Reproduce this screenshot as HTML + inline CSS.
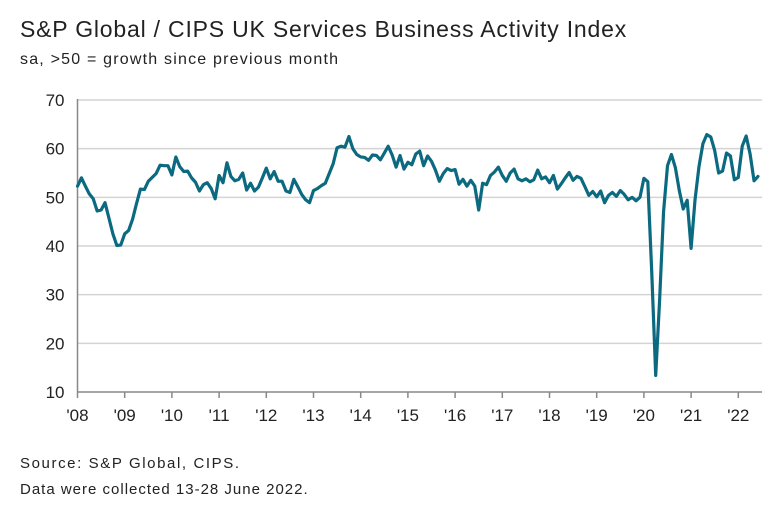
<!DOCTYPE html>
<html><head><meta charset="utf-8"><style>
body{margin:0;background:#fff;font-family:"Liberation Sans",sans-serif;}
#wrap{position:relative;width:781px;height:509px;overflow:hidden;}
.t{position:absolute;color:#222;white-space:nowrap;}
</style></head><body>
<div id="wrap">
<div class="t" style="left:20px;top:16px;font-size:23px;letter-spacing:0.8px;">S&amp;P Global / CIPS UK Services Business Activity Index</div>
<div class="t" style="left:20px;top:51px;font-size:16px;letter-spacing:1.2px;">sa, &gt;50 = growth since previous month</div>
<svg id="chart" width="781" height="509" style="position:absolute;left:0;top:0;"></svg>
<div class="t" style="left:20px;top:455px;font-size:15px;letter-spacing:1.6px;">Source: S&amp;P Global, CIPS.</div>
<div class="t" style="left:20px;top:481px;font-size:15px;letter-spacing:1px;">Data were collected 13-28 June 2022.</div>
</div>
<script>
const yTicks=[10,20,30,40,50,60,70];
const xLabels=["'08","'09","'10","'11","'12","'13","'14","'15","'16","'17","'18","'19","'20","'21","'22"];
const startYear=2008;
const values=[
52.3,54.0,52.3,50.7,49.7,47.2,47.4,48.9,45.7,42.5,40.1,40.2,
42.5,43.2,45.5,48.7,51.7,51.6,53.3,54.1,54.9,56.6,56.5,56.5,
54.6,58.3,56.3,55.3,55.4,54.0,53.1,51.3,52.6,53.0,51.8,49.7,
54.5,53.0,57.1,54.3,53.4,53.7,55.0,51.5,52.9,51.3,52.1,54.0,
56.0,53.8,55.3,53.3,53.3,51.3,51.0,53.7,52.2,50.6,49.5,48.9,
51.4,51.8,52.4,52.9,54.9,56.9,60.2,60.5,60.3,62.5,60.0,58.8,
58.3,58.2,57.6,58.7,58.6,57.7,59.1,60.5,58.7,56.2,58.6,55.8,
57.2,56.7,58.9,59.5,56.5,58.5,57.4,55.6,53.3,54.9,55.9,55.5,
55.7,52.7,53.7,52.3,53.5,52.3,47.4,52.9,52.6,54.5,55.2,56.2,
54.5,53.3,55.0,55.8,53.8,53.4,53.8,53.2,53.6,55.6,53.8,54.2,
53.0,54.5,51.7,52.8,54.0,55.1,53.5,54.3,53.9,52.2,50.4,51.2,
50.1,51.3,48.9,50.4,51.0,50.2,51.4,50.6,49.5,50.0,49.3,50.0,
53.9,53.2,34.5,13.4,29.0,47.1,56.5,58.8,56.1,51.4,47.6,49.4,
39.5,49.5,56.3,61.0,62.9,62.4,59.6,55.0,55.4,59.1,58.5,53.6,
54.1,60.5,62.6,58.9,53.4,54.3];
const svg=document.getElementById('chart');
const NS='http://www.w3.org/2000/svg';
const x0=77.5,yearW=47.2,right=762;
const X=m=>x0+m*yearW/12;
const Y=v=>392-(v-10)*(292/60);
function mk(t,a){const e=document.createElementNS(NS,t);for(const k in a)e.setAttribute(k,a[k]);svg.appendChild(e);return e;}
yTicks.forEach(v=>{
  if(v>10){const g=mk('line',{x1:x0,x2:right,y1:Y(v),y2:Y(v),stroke:'#d4d4d4','stroke-width':1.5});
  
  }
  const t=mk('text',{x:x0-13,y:Y(v)+6,'text-anchor':'end','font-size':17,fill:'#222','font-family':'Liberation Sans, sans-serif'});
  t.textContent=v;
  
  
});
const ya=mk('line',{x1:x0,x2:x0,y1:Y(70)-1,y2:Y(10),stroke:'#888','stroke-width':1.5});


const xa=mk('line',{x1:x0,x2:right,y1:Y(10),y2:Y(10),stroke:'#888','stroke-width':1.5});


xLabels.forEach((l,i)=>{
  const x=X(i*12);
  const tk=mk('line',{x1:x,x2:x,y1:Y(10),y2:Y(10)+6,stroke:'#888','stroke-width':1.5});
  
  
  const t=mk('text',{x:x,y:421,'text-anchor':'middle','font-size':17,fill:'#222','font-family':'Liberation Sans, sans-serif'});
  t.textContent=l;
  
  
});
const d=values.map((v,i)=>(i?'L':'M')+X(i).toFixed(2)+' '+Y(v).toFixed(2)).join(' ');
const p=mk('path',{d:d,fill:'none',stroke:'#0b6a80','stroke-width':3.2,'stroke-linejoin':'round','stroke-linecap':'round'});


</script>
</body></html>
